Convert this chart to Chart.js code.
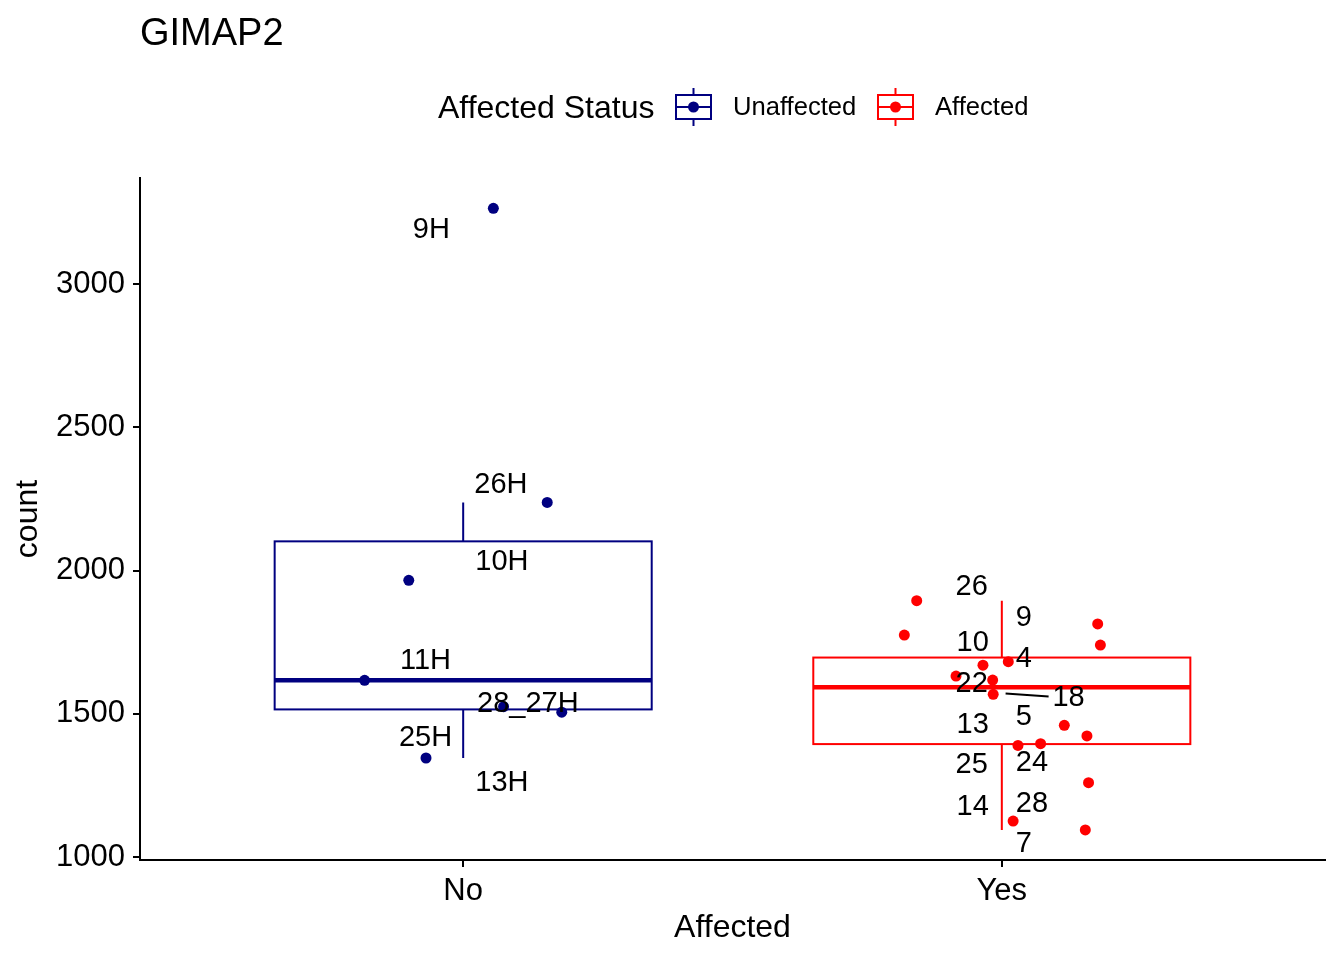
<!DOCTYPE html>
<html>
<head>
<meta charset="utf-8">
<script src="https://cdn.jsdelivr.net/npm/chart.js@4.4.1/dist/chart.umd.min.js"></script>
<style>
  html, body { margin: 0; padding: 0; background: #fff; }
  #wrap { width: 1344px; height: 960px; position: relative; }
</style>
</head>
<body>
<div id="wrap"><canvas id="chart"></canvas></div>
<script>
// categories on the x axis
var categories = ["No", "Yes"];
var yTicks = [1000, 1500, 2000, 2500, 3000];

// jittered points, x in category units (1 = No, 2 = Yes)
var noX  = [1.056, 1.156, 0.899, 0.817, 1.075, 1.183, 0.931];
var noY  = [3264, 2238, 1966, 1617, 1525, 1506, 1346];
var yesX = [1.842, 1.819, 2.178, 2.183, 2.012, 1.965, 1.915, 1.983, 1.984, 2.116, 2.158, 2.030, 2.072, 2.161, 2.021, 2.155];
var yesY = [1895, 1775, 1814, 1740, 1682, 1670, 1632, 1618, 1568, 1460, 1423, 1390, 1396, 1260, 1126, 1095];

// repelled text labels
var noLabels  = ["9H", "26H", "10H", "11H", "28_27H", "25H", "13H"];
var noLabelX  = [0.941, 1.070, 1.072, 0.930, 1.120, 0.930, 1.072];
var noLabelY  = [3195, 2307, 2038, 1690, 1540, 1422, 1265];
var yesLabels = ["26", "9", "10", "4", "22", "18", "13", "5", "25", "24", "14", "28", "7"];
var yesLabelX = [1.944, 2.041, 1.946, 2.041, 1.944, 2.124, 1.946, 2.041, 1.944, 2.056, 1.946, 2.056, 2.041];
var yesLabelY = [1951, 1840, 1753, 1700, 1610, 1561, 1467, 1495, 1328, 1334, 1181, 1192, 1052];
var seg18 = [2.007, 1571];

var navy = "#000080";
var red = "#ff0000";
var FONT = "'Liberation Sans', Arial, sans-serif";

function toPts(xs, ys) {
  return xs.map(function(x, i) { return { x: x, y: ys[i] }; });
}

function quantile(sorted, p) {
  var h = (sorted.length - 1) * p;
  var lo = Math.floor(h);
  var hi = Math.ceil(h);
  return sorted[lo] + (h - lo) * (sorted[hi] - sorted[lo]);
}

function boxStats(vals) {
  var s = vals.slice().sort(function(a, b) { return a - b; });
  var q1 = quantile(s, 0.25), med = quantile(s, 0.5), q3 = quantile(s, 0.75);
  var iqr = q3 - q1;
  var lo = s.filter(function(v) { return v >= q1 - 1.5 * iqr; })[0];
  var inside = s.filter(function(v) { return v <= q3 + 1.5 * iqr; });
  var hi = inside[inside.length - 1];
  return { q1: q1, med: med, q3: q3, lo: lo, hi: hi };
}

var groups = [
  { y: noY, color: navy },
  { y: yesY, color: red }
];

var boxPlugin = {
  id: "boxes",
  beforeDatasetsDraw: function(chart) {
    var ctx = chart.ctx, xs = chart.scales.x, ys = chart.scales.y;
    groups.forEach(function(g, i) {
      var s = boxStats(g.y);
      var c = xs.getPixelForValue(i + 1);
      var l = xs.getPixelForValue(i + 1 - 0.35);
      var r = xs.getPixelForValue(i + 1 + 0.35);
      var top = ys.getPixelForValue(s.q3), bot = ys.getPixelForValue(s.q1);
      ctx.save();
      ctx.strokeStyle = g.color;
      ctx.lineWidth = 2;
      ctx.strokeRect(l, top, r - l, bot - top);
      ctx.beginPath();
      ctx.moveTo(c, top); ctx.lineTo(c, ys.getPixelForValue(s.hi));
      ctx.moveTo(c, bot); ctx.lineTo(c, ys.getPixelForValue(s.lo));
      ctx.stroke();
      ctx.lineWidth = 4.5;
      ctx.beginPath();
      var m = ys.getPixelForValue(s.med);
      ctx.moveTo(l, m); ctx.lineTo(r, m);
      ctx.stroke();
      ctx.restore();
    });
  },
  afterDatasetsDraw: function(chart) {
    var ctx = chart.ctx, xs = chart.scales.x, ys = chart.scales.y;
    ctx.save();
    ctx.fillStyle = "#000";
    ctx.font = "29px " + FONT;
    ctx.textAlign = "center";
    ctx.textBaseline = "middle";
    noLabels.forEach(function(t, i) {
      ctx.fillText(t, xs.getPixelForValue(noLabelX[i]), ys.getPixelForValue(noLabelY[i]) + 2);
    });
    yesLabels.forEach(function(t, i) {
      ctx.fillText(t, xs.getPixelForValue(yesLabelX[i]), ys.getPixelForValue(yesLabelY[i]) + 2);
    });
    // segment for label 18
    var i18 = yesLabels.indexOf("18");
    ctx.strokeStyle = "#000";
    ctx.lineWidth = 2;
    ctx.beginPath();
    ctx.moveTo(xs.getPixelForValue(seg18[0]), ys.getPixelForValue(seg18[1]));
    ctx.lineTo(xs.getPixelForValue(yesLabelX[i18]) - 20, ys.getPixelForValue(yesLabelY[i18]));
    ctx.stroke();
    ctx.restore();
  },
  afterDraw: function(chart) {
    var ctx = chart.ctx, a = chart.chartArea;
    ctx.save();
    ctx.fillStyle = "#000";
    // title
    ctx.font = "38px " + FONT;
    ctx.textAlign = "left";
    ctx.textBaseline = "alphabetic";
    ctx.fillText("GIMAP2", 140, 45);
    // axis titles
    ctx.font = "32px " + FONT;
    ctx.textAlign = "center";
    ctx.textBaseline = "middle";
    ctx.fillText("Affected", (a.left + a.right) / 2, 928);
    ctx.save();
    ctx.translate(28, (a.top + a.bottom) / 2);
    ctx.rotate(-Math.PI / 2);
    ctx.fillText("count", 0, 0);
    ctx.restore();
    // legend
    ctx.textAlign = "left";
    ctx.fillText("Affected Status", 438, 109);
    var keys = [
      { cx: 693.5, color: navy, label: "Unaffected", tx: 733 },
      { cx: 895.5, color: red, label: "Affected", tx: 935 }
    ];
    keys.forEach(function(k) {
      ctx.strokeStyle = k.color;
      ctx.fillStyle = k.color;
      ctx.lineWidth = 2;
      ctx.strokeRect(k.cx - 17.5, 95, 35, 24);
      ctx.beginPath();
      ctx.moveTo(k.cx, 88); ctx.lineTo(k.cx, 95);
      ctx.moveTo(k.cx, 119); ctx.lineTo(k.cx, 126);
      ctx.moveTo(k.cx - 17.5, 107); ctx.lineTo(k.cx + 17.5, 107);
      ctx.stroke();
      ctx.beginPath();
      ctx.arc(k.cx, 107, 5.5, 0, Math.PI * 2);
      ctx.fill();
      ctx.fillStyle = "#000";
      ctx.font = "25.6px " + FONT;
      ctx.fillText(k.label, k.tx, 108);
    });
    ctx.restore();
  }
};

var ctx = document.getElementById("chart").getContext("2d");
var myChart = new Chart(ctx, {
  type: "scatter",
  data: {
    datasets: [{
      label: "Unaffected",
      data: toPts(noX, noY),
      backgroundColor: navy,
      borderWidth: 0,
      pointRadius: 5.5
    }, {
      label: "Affected",
      data: toPts(yesX, yesY),
      backgroundColor: red,
      borderWidth: 0,
      pointRadius: 5.5
    }]
  },
  options: {
    responsive: true,
    maintainAspectRatio: false,
    animation: false,
    layout: { padding: { top: 178, right: 19, left: 0, bottom: 0 } },
    plugins: {
      legend: { display: false },
      tooltip: { enabled: false }
    },
    scales: {
      x: {
        type: "linear",
        min: 0.4,
        max: 2.6,
        afterBuildTicks: function(scale) {
          scale.ticks = [{ value: 1 }, { value: 2 }];
        },
        afterFit: function(scale) { scale.height = 100; },
        ticks: {
          color: "#000",
          font: { family: FONT, size: 31 },
          padding: 6,
          callback: function(v) { return categories[v - 1]; }
        },
        grid: { drawOnChartArea: false, drawTicks: true, tickLength: 7, color: "#000", lineWidth: 2 },
        border: { display: true, color: "#000", width: 2 }
      },
      y: {
        min: 990,
        max: 3370,
        afterBuildTicks: function(scale) {
          scale.ticks = yTicks.map(function(v) { return { value: v }; });
        },
        afterFit: function(scale) { scale.width = 140; },
        ticks: {
          color: "#000",
          font: { family: FONT, size: 31 },
          padding: 8,
          callback: function(v) { return String(v); }
        },
        grid: { drawOnChartArea: false, drawTicks: true, tickLength: 7, color: "#000", lineWidth: 2 },
        border: { display: true, color: "#000", width: 2 }
      }
    }
  },
  plugins: [boxPlugin]
});
</script>
</body>
</html>
